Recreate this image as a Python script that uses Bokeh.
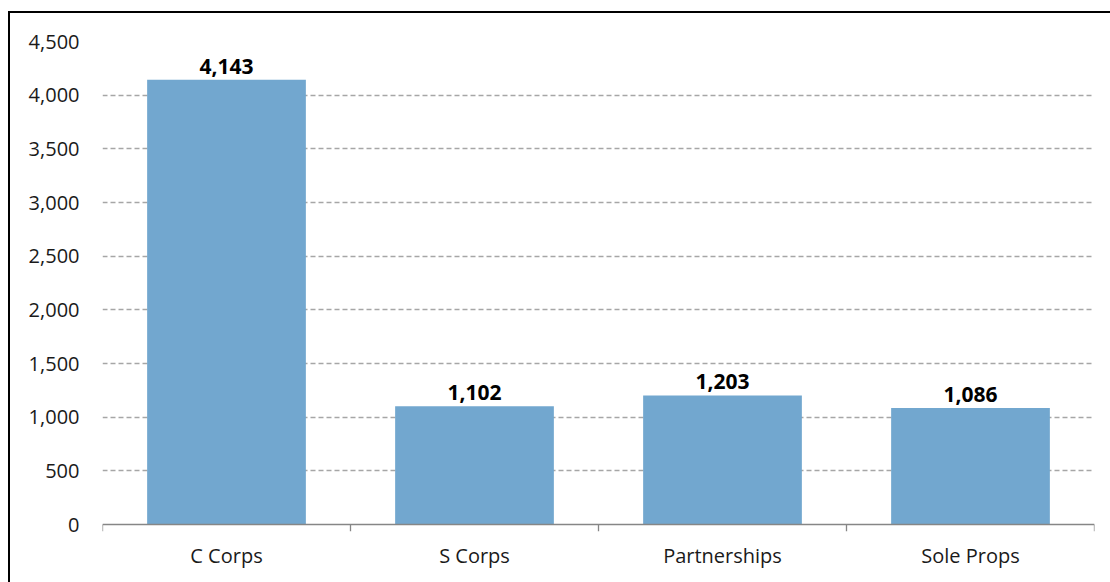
from bokeh.plotting import figure
from bokeh.models import (FactorRange, Range1d, FixedTicker, Span,
                          NumeralTickFormatter, ColumnDataSource, LabelSet)
from bokeh.embed import file_html
from bokeh.resources import INLINE
from bokeh.core.properties import value

categories = ["C Corps", "S Corps", "Partnerships", "Sole Props"]
counts = [4143, 1102, 1203, 1086]
y_ticks = [0, 500, 1000, 1500, 2000, 2500, 3000, 3500, 4000, 4500]

FONT = "Open Sans"
BAR = "#72A7CF"
AXIS = "#868686"

labels = [f"{v:,}" for v in counts]
src = ColumnDataSource(dict(cat=categories, val=counts, lab=labels))

TICK_LEN = 65  # data units below zero for Excel-style boundary tick marks

p = figure(width=1104, height=572,
           x_range=FactorRange(*categories, range_padding=0, factor_padding=0),
           y_range=Range1d(-TICK_LEN, 4500), output_backend="svg", toolbar_location=None,
           min_border_left=92, min_border_right=20,
           min_border_top=28, min_border_bottom=54)
p.styles = {"margin-left": "8px", "margin-top": "11px",
            "border-style": "solid none none solid",
            "border-width": "2px 0px 0px 2px",
            "border-color": "black"}
p.outline_line_color = None
p.background_fill_color = "white"
p.border_fill_color = "white"

p.vbar(x="cat", top="val", width=0.64, source=src, fill_color=BAR, line_color=None)

# y axis
ya = p.yaxis[0]
ya.ticker = FixedTicker(ticks=y_ticks)
ya.formatter = NumeralTickFormatter(format="0,0")
ya.axis_line_color = None
ya.major_tick_line_color = None
ya.minor_tick_line_color = None
ya.major_tick_out = 0
ya.major_tick_in = 0
ya.major_label_standoff = 23
ya.major_label_text_font = FONT
ya.major_label_text_font_size = "20px"
ya.major_label_text_color = "#1a1a1a"

p.ygrid.ticker = FixedTicker(ticks=y_ticks[1:])
p.ygrid.grid_line_color = "#A6A6A6"
p.ygrid.grid_line_dash = "5 3"
p.ygrid.grid_line_width = 1.3
p.xgrid.grid_line_color = None

# x axis: labels only; axis line and boundary ticks drawn in the frame
xa = p.xaxis[0]
xa.axis_line_color = None
xa.major_tick_line_color = None
xa.major_tick_out = 0
xa.major_tick_in = 0
xa.major_label_standoff = 10
xa.major_label_text_font = FONT
xa.major_label_text_font_size = "20px"
xa.major_label_text_color = "#1a1a1a"

p.add_layout(Span(location=0, dimension="width", line_color=AXIS, line_width=1.3))
edges = list(range(len(categories) + 1))
p.segment(x0=edges, y0=[0] * len(edges), x1=edges, y1=[-TICK_LEN] * len(edges),
          line_color=AXIS, line_width=1.3)

lbl = LabelSet(x="cat", y="val", text="lab", source=src, text_align="center",
               text_baseline="bottom", y_offset=6, text_font=value(FONT),
               text_font_style="bold", text_font_size="21px", text_color="black")
p.add_layout(lbl)

html = file_html(p, INLINE)
# the chart continues past the window's right and bottom edges, as in the cropped original
html = html.replace("</head>", "<style>html, body { overflow: hidden; }</style></head>", 1)
open("out.html", "w").write(html)
